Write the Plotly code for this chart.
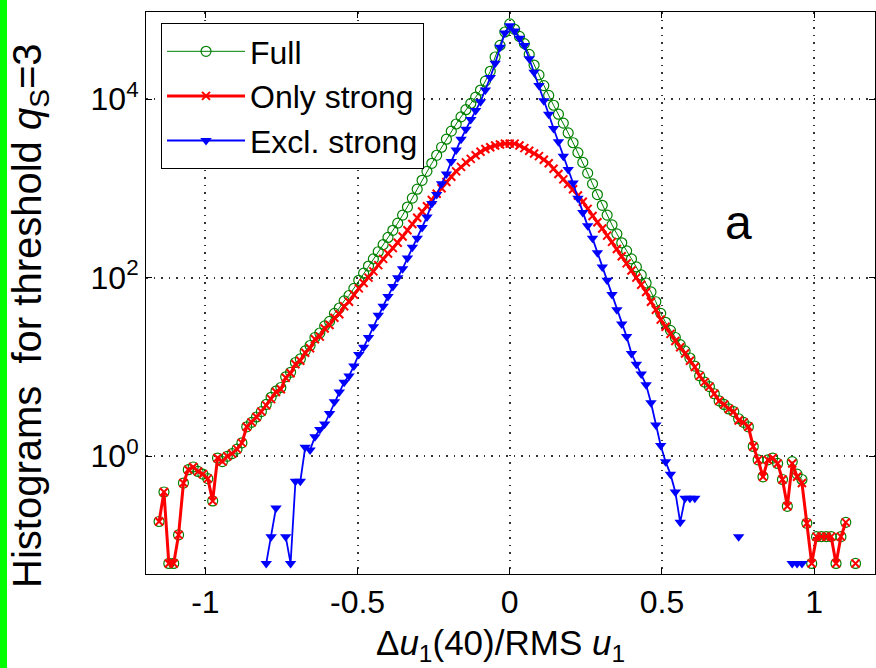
import plotly.graph_objects as go

# ---------------- data (bin centres and log10 of histogram values) -------------
bin_centers = [
    -1.152, -1.136, -1.120, -1.104, -1.088, -1.072, -1.056, -1.040, -1.024, -1.008,
    -0.992, -0.976, -0.960, -0.944, -0.928, -0.912, -0.896, -0.880, -0.864, -0.848,
    -0.832, -0.816, -0.800, -0.784, -0.768, -0.752, -0.736, -0.720, -0.704, -0.688,
    -0.672, -0.656, -0.640, -0.624, -0.608, -0.592, -0.576, -0.560, -0.544, -0.528,
    -0.512, -0.496, -0.480, -0.464, -0.448, -0.432, -0.416, -0.400, -0.384, -0.368,
    -0.352, -0.336, -0.320, -0.304, -0.288, -0.272, -0.256, -0.240, -0.224, -0.208,
    -0.192, -0.176, -0.160, -0.144, -0.128, -0.112, -0.096, -0.080, -0.064, -0.048,
    -0.032, -0.016, 0.000, 0.016, 0.032, 0.048, 0.064, 0.080, 0.096, 0.112,
    0.128, 0.144, 0.160, 0.176, 0.192, 0.208, 0.224, 0.240, 0.256, 0.272,
    0.288, 0.304, 0.320, 0.336, 0.352, 0.368, 0.384, 0.400, 0.416, 0.432,
    0.448, 0.464, 0.480, 0.496, 0.512, 0.528, 0.544, 0.560, 0.576, 0.592,
    0.608, 0.624, 0.640, 0.656, 0.672, 0.688, 0.704, 0.720, 0.736, 0.752,
    0.768, 0.784, 0.800, 0.816, 0.832, 0.848, 0.864, 0.880, 0.896, 0.912,
    0.928, 0.944, 0.960, 0.976, 0.992, 1.008, 1.024, 1.040, 1.056, 1.072,
    1.088, 1.104, 1.120, 1.136,
]

full_log10 = [
    -0.73, -0.40, -1.2, -1.2, -0.88, -0.30, -0.15, -0.12, -0.17, -0.20,
    -0.25, -0.50, -0.02, -0.06, 0.00, 0.03, 0.08, 0.15, 0.33, 0.38,
    0.44, 0.50, 0.58, 0.66, 0.73, 0.77, 0.89, 0.94, 1.05, 1.09,
    1.18, 1.24, 1.33, 1.38, 1.46, 1.51, 1.60, 1.66, 1.74, 1.80,
    1.88, 1.97, 2.05, 2.13, 2.21, 2.29, 2.37, 2.45, 2.53, 2.61,
    2.70, 2.79, 2.89, 2.99, 3.09, 3.19, 3.28, 3.37, 3.46, 3.55,
    3.64, 3.72, 3.80, 3.88, 3.95, 4.02, 4.10, 4.20, 4.31, 4.47,
    4.60, 4.75, 4.84, 4.78, 4.70, 4.62, 4.50, 4.38, 4.27, 4.15,
    4.04, 3.93, 3.83, 3.73, 3.62, 3.51, 3.40, 3.29, 3.17, 3.05,
    2.93, 2.81, 2.70, 2.59, 2.49, 2.39, 2.30, 2.21, 2.12, 2.03,
    1.94, 1.84, 1.73, 1.60, 1.50, 1.41, 1.33, 1.25, 1.18, 1.10,
    1.01, 0.90, 0.83, 0.78, 0.70, 0.62, 0.58, 0.53, 0.50, 0.42,
    0.38, 0.33, 0.11, -0.04, -0.23, -0.04, -0.02, -0.08, -0.26, -0.56,
    -0.06, -0.20, -0.26, -0.75, -1.2, -0.9, -0.9, -0.9, -0.9, -1.2,
    -0.9, -0.74, None, -1.2,
]

strong_log10 = [
    -0.73, -0.40, -1.2, -1.2, -0.88, -0.30, -0.15, -0.12, -0.17, -0.20,
    -0.25, -0.50, -0.02, -0.06, 0.00, 0.03, 0.08, 0.15, 0.33, 0.38,
    0.44, 0.50, 0.57, 0.64, 0.72, 0.75, 0.88, 0.93, 1.03, 1.07,
    1.16, 1.21, 1.31, 1.34, 1.43, 1.47, 1.55, 1.59, 1.68, 1.73,
    1.81, 1.88, 1.94, 2.00, 2.07, 2.14, 2.21, 2.27, 2.33, 2.39,
    2.46, 2.53, 2.60, 2.67, 2.74, 2.80, 2.87, 2.94, 3.00, 3.07,
    3.13, 3.19, 3.24, 3.29, 3.33, 3.37, 3.41, 3.44, 3.46, 3.48,
    3.49, 3.50, 3.50, 3.50, 3.48, 3.45, 3.42, 3.39, 3.36, 3.32,
    3.28, 3.22, 3.16, 3.10, 3.05, 2.99, 2.92, 2.85, 2.77, 2.69,
    2.62, 2.55, 2.47, 2.40, 2.32, 2.24, 2.16, 2.08, 2.00, 1.92,
    1.84, 1.73, 1.64, 1.53, 1.45, 1.37, 1.29, 1.22, 1.15, 1.07,
    1.00, 0.90, 0.83, 0.78, 0.70, 0.62, 0.58, 0.53, 0.50, 0.40,
    0.38, 0.33, 0.11, -0.04, -0.23, -0.04, -0.02, -0.08, -0.26, -0.56,
    -0.08, -0.23, -0.30, -0.75, -1.2, -0.9, -0.9, -0.9, -0.9, -1.2,
    -0.9, -0.74, None, -1.2,
]

excl_log10 = [
    None, None, None, None, None, None, None, None, None, None,
    None, None, None, None, None, None, None, None, None, None,
    None, None, -1.2, -0.9, -0.58, None, -0.9, -1.2, -0.28, -0.28,
    0.10, 0.07, 0.22, 0.30, 0.36, 0.48, 0.61, 0.72, 0.83, 0.90,
    1.01, 1.14, 1.22, 1.33, 1.45, 1.58, 1.68, 1.79, 1.90, 2.00,
    2.10, 2.22, 2.34, 2.44, 2.56, 2.68, 2.83, 2.93, 3.05, 3.16,
    3.30, 3.43, 3.55, 3.66, 3.77, 3.87, 3.97, 4.10, 4.24, 4.40,
    4.58, 4.74, 4.82, 4.76, 4.68, 4.60, 4.45, 4.30, 4.15, 3.98,
    3.83, 3.67, 3.52, 3.36, 3.21, 3.06, 2.89, 2.73, 2.58, 2.44,
    2.28, 2.12, 1.97, 1.81, 1.64, 1.48, 1.34, 1.15, 1.03, 0.92,
    0.80, 0.60, 0.35, 0.12, -0.06, -0.20, -0.40, -0.74, -0.47, -0.47,
    -0.47, None, None, None, None, None, None, None, None, -0.9,
    None, None, None, None, None, None, None, None, None, None,
    -1.2, -1.2, -1.2, None, None, None, None, None, None, None,
    None, None, None, None,
]

series_names = ["Full", "Only strong", "Excl. strong"]
x_tick_vals = [-1, -0.5, 0, 0.5, 1]
x_tick_text = ["-1", "-0.5", "0", "0.5", "1"]
y_tick_vals = [1, 100, 10000]
y_tick_text = ["10<sup>0</sup>", "10<sup>2</sup>", "10<sup>4</sup>"]

assert len(bin_centers) == len(full_log10) == len(strong_log10) == len(excl_log10)


def to_values(logs):
    return [None if v is None else 10 ** v for v in logs]


FONT = "Liberation Sans, Arial, Helvetica, sans-serif"

fig = go.Figure()
fig.add_trace(go.Scatter(
    x=bin_centers, y=to_values(full_log10), name=series_names[0], mode="lines+markers",
    line=dict(color="#008000", width=1),
    marker=dict(symbol="circle-open", size=10, color="#008000", line=dict(width=1.2, color="#008000")),
))
fig.add_trace(go.Scatter(
    x=bin_centers, y=to_values(strong_log10), name=series_names[1], mode="lines+markers",
    line=dict(color="#ff0000", width=3),
    marker=dict(symbol="x-thin", size=8, color="#ff0000", line=dict(width=2, color="#ff0000")),
))
fig.add_trace(go.Scatter(
    x=bin_centers, y=to_values(excl_log10), name=series_names[2], mode="lines+markers",
    line=dict(color="#0000ff", width=1.8),
    marker=dict(symbol="triangle-down", size=10, color="#0000ff", line=dict(width=0)),
))

axis_common = dict(
    ticks="inside", ticklen=6, tickwidth=1.2, tickcolor="black",
    showline=True, linecolor="black", linewidth=1, mirror="ticks",
    showgrid=True, gridcolor="#333333", gridwidth=1.5, griddash="1.5px,6px",
    zeroline=False, tickfont=dict(family=FONT, size=32, color="black"),
)

fig.update_layout(
    width=876, height=668,
    margin=dict(l=146, r=1, t=12, b=94),
    paper_bgcolor="white", plot_bgcolor="white",
    font=dict(family=FONT, size=32, color="black"),
    showlegend=True,
    legend=dict(
        x=0.0206, y=0.9804, xanchor="left", yanchor="top",
        bgcolor="white", bordercolor="black", borderwidth=1,
        font=dict(family=FONT, size=32, color="black"),
        itemwidth=78, tracegroupgap=0,
    ),
    xaxis=dict(range=[-1.195, 1.2], tickvals=x_tick_vals, ticktext=x_tick_text, **axis_common),
    yaxis=dict(type="log", range=[-1.318, 4.974], tickvals=y_tick_vals, ticktext=y_tick_text, **axis_common),
    annotations=[
        dict(text="Histograms\u00a0\u00a0for threshold <i>q</i><sub>S</sub>=3", xref="paper", yref="paper",
             x=-116 / 729, y=1 - (316 - 12) / 562, xanchor="center", yanchor="middle",
             textangle=-90, showarrow=False, font=dict(family=FONT, size=40, color="black")),
        dict(text="\u0394<i>u</i><sub>1</sub>(40)/RMS <i>u</i><sub>1</sub>", xref="paper", yref="paper",
             x=(500 - 146) / 729, y=-(645 - 574) / 562, xanchor="center", yanchor="middle",
             showarrow=False, font=dict(family=FONT, size=35, color="black")),
        dict(text="a", xref="x", yref="y", x=0.75, y=2.62, xanchor="center", yanchor="middle",
             showarrow=False, font=dict(family=FONT, size=48, color="black")),
    ],
    shapes=[
        dict(type="rect", xref="paper", yref="paper",
             x0=-146 / 729, x1=-139 / 729, y0=-94 / 562, y1=1 + 12 / 562,
             fillcolor="#00ff00", line=dict(width=0), layer="above"),
    ],
)

fig.write_html(
    "out.html",
    config={"displayModeBar": False},
    post_script="document.body.style.margin='0';document.body.style.overflow='hidden';",
)
